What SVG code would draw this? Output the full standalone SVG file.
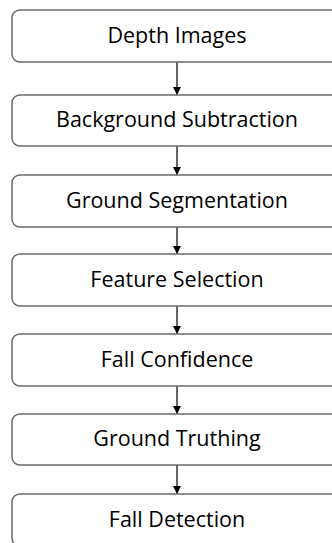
<svg xmlns="http://www.w3.org/2000/svg" width="332" height="543" viewBox="0 0 332 543">
<defs>
<style>
.box{fill:#fff;stroke:#6a6a6a;stroke-width:1.5}
.lbl{font-family:"Open Sans","Noto Sans",sans-serif;font-size:21.5px;fill:#000;text-anchor:middle}
.con{stroke:#000;stroke-width:1.2;fill:none}
</style>
<marker id="ah" markerWidth="8" markerHeight="8" refX="8" refY="4" orient="auto" markerUnits="userSpaceOnUse">
<path d="M0,0 L8,4 L0,8 z" fill="#000"/>
</marker>
</defs>
<rect width="332" height="543" fill="#fff"/>
<g id="connectors">
<line class="con" x1="177" y1="62" x2="177" y2="95" marker-end="url(#ah)"/>
<line class="con" x1="177" y1="146" x2="177" y2="175" marker-end="url(#ah)"/>
<line class="con" x1="177" y1="227" x2="177" y2="254" marker-end="url(#ah)"/>
<line class="con" x1="177" y1="306" x2="177" y2="334" marker-end="url(#ah)"/>
<line class="con" x1="177" y1="386" x2="177" y2="414" marker-end="url(#ah)"/>
<line class="con" x1="177" y1="465" x2="177" y2="494" marker-end="url(#ah)"/>
</g>
<g id="n1"><rect class="box" x="12" y="10" width="332" height="52" rx="8"/><text class="lbl" x="177" y="43">Depth Images</text></g>
<g id="n2"><rect class="box" x="12" y="95" width="332" height="51" rx="8"/><text class="lbl" x="177" y="127">Background Subtraction</text></g>
<g id="n3"><rect class="box" x="12" y="175" width="332" height="52" rx="8"/><text class="lbl" x="177" y="208">Ground Segmentation</text></g>
<g id="n4"><rect class="box" x="12" y="254" width="332" height="52" rx="8"/><text class="lbl" x="177" y="287">Feature Selection</text></g>
<g id="n5"><rect class="box" x="12" y="334" width="332" height="52" rx="8"/><text class="lbl" x="177" y="367">Fall Confidence</text></g>
<g id="n6"><rect class="box" x="12" y="414" width="332" height="51" rx="8"/><text class="lbl" x="177" y="446">Ground Truthing</text></g>
<g id="n7"><rect class="box" x="12" y="494" width="332" height="52" rx="8"/><text class="lbl" x="177" y="527">Fall Detection</text></g>
</svg>
